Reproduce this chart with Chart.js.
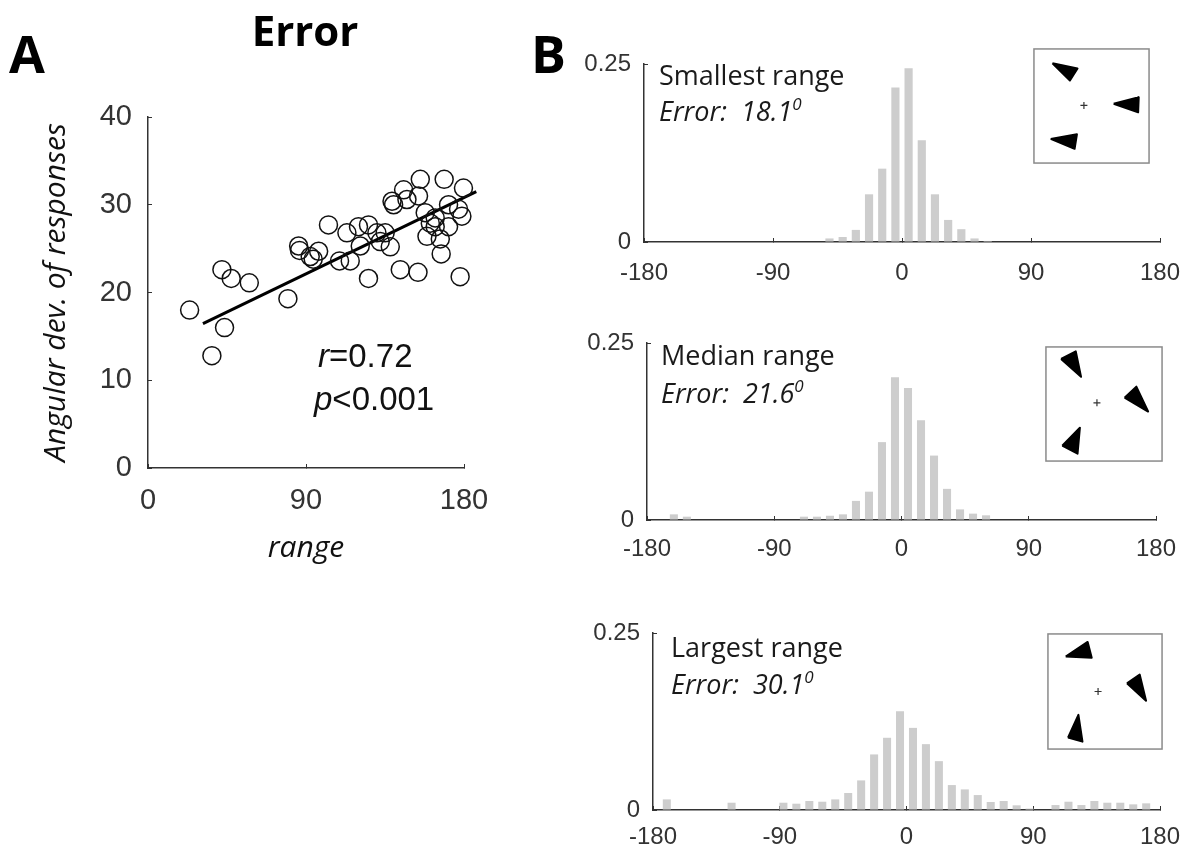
<!DOCTYPE html>
<html>
<head>
<meta charset="utf-8">
<script src="https://cdn.jsdelivr.net/npm/chart.js@4.4.1/dist/chart.umd.min.js"></script>
<style>
  html, body { margin: 0; padding: 0; background: #fff; }
  #fig { position: relative; width: 1193px; height: 853px; overflow: hidden; }
  canvas { position: absolute; }
  canvas.inset { z-index: 2; }
  .t { position: absolute; white-space: pre; line-height: 1; color: #1a1a1a; z-index: 3; }
  .panel { font-family: "Open Sans", sans-serif; font-weight: 700; font-size: 52px; color: #000; }
  .title { font-family: "Open Sans", sans-serif; font-weight: 700; font-size: 42px; color: #000; width: 200px; text-align: center; }
  .stat { font-family: "Liberation Sans", Arial, sans-serif; font-size: 33px; color: #111; }
  .lbl { font-family: "Open Sans", sans-serif; font-size: 27px; }
  .lbl i sup { font-size: 17px; vertical-align: 11px; line-height: 0; }
</style>
</head>
<body>
<div id="fig">
  <canvas id="scatter" width="520" height="600" style="left:0;top:0"></canvas>
  <canvas id="histSmall" width="630" height="280" style="left:560px;top:30px"></canvas>
  <canvas id="histMedian" width="630" height="280" style="left:560px;top:310px"></canvas>
  <canvas id="histLarge" width="630" height="253" style="left:560px;top:600px"></canvas>
  <canvas id="insetSmall" class="inset" width="127" height="126" style="left:1028px;top:43px"></canvas>
  <canvas id="insetMedian" class="inset" width="128" height="126" style="left:1040px;top:341px"></canvas>
  <canvas id="insetLarge" class="inset" width="126" height="127" style="left:1042px;top:628px"></canvas>

  <div class="t panel" style="left:9px;top:27px">A</div>
  <div class="t title" style="left:205px;top:9px">Error</div>
  <div class="t panel" style="left:531px;top:27px">B</div>
  <div class="t stat" style="left:318px;top:339px"><i>r</i>=0.72</div>
  <div class="t stat" style="left:314px;top:382px"><i>p</i>&lt;0.001</div>

  <div class="t lbl" style="left:659px;top:61px">Smallest range</div>
  <div class="t lbl" style="left:659px;top:97px"><i>Error:  18.1<sup>0</sup></i></div>
  <div class="t lbl" style="left:661px;top:341px">Median range</div>
  <div class="t lbl" style="left:661px;top:379px"><i>Error:  21.6<sup>0</sup></i></div>
  <div class="t lbl" style="left:671px;top:633px">Largest range</div>
  <div class="t lbl" style="left:671px;top:670px"><i>Error:  30.1<sup>0</sup></i></div>
</div>

<script>
// ---------- Data ----------

// Panel A: range vs angular deviation, one circle per subject
const RANGE_X = [23.7, 36.4, 43.6, 42.1, 47.4, 57.7, 79.7, 85.8, 86.3, 92.4, 97.2, 94.1,
  102.8, 109.1, 115.2, 113.3, 119.9, 125.6, 120.9, 125.6, 130.4, 135.1, 132.3, 138.0,
  139.0, 139.9, 145.6, 147.5, 143.7, 153.8, 155.1, 154.1, 157.9, 158.9, 160.8, 163.6,
  166.5, 167.0, 168.7, 171.2, 171.2, 176.9, 178.8, 179.7, 177.8, 163.6];
const ERROR_Y = [18.0, 12.8, 16.0, 22.6, 21.6, 21.1, 19.3, 25.3, 24.8, 24.1, 24.7, 23.8,
  27.7, 23.6, 23.6, 26.8, 27.5, 27.7, 25.3, 21.6, 26.8, 26.8, 25.8, 25.2,
  30.4, 30.0, 31.7, 30.6, 22.6, 22.3, 32.9, 31.0, 29.1, 26.4, 27.9, 27.5,
  26.1, 24.4, 32.9, 27.5, 30.0, 29.5, 28.7, 31.9, 21.8, 28.5];
// fitted line end points
const FIT_X = [31.3, 187];
const FIT_Y = [16.45, 31.5];

const SCATTER_X_TICKS = [0, 90, 180];
const SCATTER_Y_TICKS = [0, 10, 20, 30, 40];

// Panel B: response error histograms (proportion per bin)
const BIN_CENTERS = [-179.4, -170.2, -161.0, -151.8, -142.6, -133.4, -124.2, -115.0, -105.8, -96.6,
  -87.4, -78.2, -69.0, -59.8, -50.6, -41.4, -32.2, -23.0, -13.8, -4.6,
  4.6, 13.8, 23.0, 32.2, 41.4, 50.6, 59.8, 69.0, 78.2, 87.4,
  96.6, 105.8, 115.0, 124.2, 133.4, 142.6, 151.8, 161.0, 170.2, 179.4];
const SMALLEST_RANGE = [0, 0, 0, 0, 0, 0, 0, 0, 0, 0,
  0, 0, 0, 0, 0.005, 0.007, 0.017, 0.067, 0.103, 0.217,
  0.244, 0.143, 0.067, 0.031, 0.018, 0.005, 0.0015, 0, 0, 0,
  0, 0, 0, 0, 0, 0, 0, 0, 0, 0];
const MEDIAN_RANGE = [0, 0, 0.008, 0.0047, 0, 0, 0, 0, 0, 0,
  0, 0, 0.0047, 0.0047, 0.006, 0.008, 0.027, 0.04, 0.11, 0.2016,
  0.1866, 0.141, 0.091, 0.044, 0.015, 0.009, 0.0066, 0, 0, 0,
  0, 0, 0, 0, 0, 0, 0, 0, 0, 0];
const LARGEST_RANGE = [0, 0.015, 0, 0, 0, 0, 0.0103, 0, 0, 0,
  0.0103, 0.0089, 0.0127, 0.0117, 0.015, 0.024, 0.0418, 0.0785, 0.102, 0.1396,
  0.116, 0.093, 0.069, 0.0352, 0.0291, 0.0211, 0.0113, 0.0127, 0.0066, 0.002,
  0, 0.007, 0.0117, 0.007, 0.0127, 0.0103, 0.0103, 0.008, 0.0094, 0];

const HIST_X_TICKS = [-180, -90, 0, 90, 180];
const HIST_Y_TICKS = [0, 0.25];

// Stimulus insets: three arrow-heads and a fixation cross, box spans -1..1
const SMALL_TRI_1 = [[-0.67, 0.74], [-0.24, 0.65], [-0.37, 0.44]];
const SMALL_TRI_2 = [[0.38, 0.04], [0.81, 0.15], [0.80, -0.11]];
const SMALL_TRI_3 = [[-0.70, -0.57], [-0.25, -0.49], [-0.29, -0.74]];
const SMALL_FIX = [-0.13, 0.01];
const MEDIAN_TRI_1 = [[-0.73, 0.78], [-0.48, 0.91], [-0.39, 0.47]];
const MEDIAN_TRI_2 = [[0.35, 0.11], [0.55, 0.30], [0.75, -0.13]];
const MEDIAN_TRI_3 = [[-0.71, -0.72], [-0.41, -0.41], [-0.45, -0.86]];
const MEDIAN_FIX = [-0.12, 0.02];
const LARGE_TRI_1 = [[-0.68, 0.60], [-0.30, 0.85], [-0.23, 0.58]];
const LARGE_TRI_2 = [[0.38, 0.14], [0.60, 0.29], [0.71, -0.16]];
const LARGE_TRI_3 = [[-0.64, -0.79], [-0.46, -0.40], [-0.39, -0.86]];
const LARGE_FIX = [-0.12, 0.0];

// ---------- Shared style ----------

Chart.defaults.font.family = "'Liberation Sans', Arial, sans-serif";
Chart.defaults.color = "#333";

const AXIS = "#333";

function fixedTicks(values) {
  return scale => { scale.ticks = values.map(v => ({ value: v })); };
}

// MATLAB-ish axis: solid spine, short inward tick marks, no grid
function axisStyle() {
  return {
    grid: { display: true, drawOnChartArea: false, drawTicks: true, tickLength: -4, color: AXIS, lineWidth: 1 },
    border: { display: true, color: AXIS, width: 1.5 },
  };
}

const baseOpts = {
  responsive: false,
  animation: false,
  events: [],
  plugins: { legend: { display: false }, tooltip: { enabled: false } },
};

// ---------- Panel A ----------

new Chart(document.getElementById("scatter"), {
  type: "scatter",
  data: {
    datasets: [
      {
        data: RANGE_X.map((x, i) => ({ x, y: ERROR_Y[i] })),
        pointRadius: 9,
        pointBorderWidth: 1.5,
        pointBorderColor: "#111",
        pointBackgroundColor: "rgba(0,0,0,0)",
        clip: false,
      },
      {
        type: "line",
        data: FIT_X.map((x, i) => ({ x, y: FIT_Y[i] })),
        borderColor: "#000",
        borderWidth: 3,
        pointRadius: 0,
        fill: false,
        clip: false,
      },
    ],
  },
  options: {
    ...baseOpts,
    layout: { padding: { top: 117, right: 56, left: 0, bottom: 0 } },
    scales: {
      x: {
        type: "linear", min: 0, max: 180,
        afterBuildTicks: fixedTicks(SCATTER_X_TICKS),
        afterFit: s => { s.height = 132; s.paddingLeft = 0; s.paddingRight = 0; },
        ticks: { padding: 20, font: { size: 29 }, color: "#333", maxRotation: 0, autoSkip: false },
        title: {
          display: true, text: "range", color: "#111",
          font: { family: "'Open Sans', sans-serif", style: "italic", size: 30 },
          padding: { top: 0, bottom: 34 },
        },
        ...axisStyle(),
      },
      y: {
        type: "linear", min: 0, max: 40,
        afterBuildTicks: fixedTicks(SCATTER_Y_TICKS),
        afterFit: s => { s.width = 148; },
        ticks: { padding: 20, font: { size: 29 }, color: "#333" },
        title: {
          display: true, text: "Angular dev. of responses", color: "#111",
          font: { family: "'Open Sans', sans-serif", style: "italic", size: 30 },
          padding: { top: 38, bottom: 0 },
        },
        ...axisStyle(),
      },
    },
  },
});

// ---------- Panel B histograms ----------

function histChart(id, values, box) {
  return new Chart(document.getElementById(id), {
    type: "bar",
    data: {
      datasets: [{
        data: BIN_CENTERS.map((x, i) => ({ x, y: values[i] })),
        backgroundColor: "#cdcdcd",
        borderWidth: 0,
        barPercentage: 0.62,
        categoryPercentage: 1.0,
      }],
    },
    options: {
      ...baseOpts,
      layout: { padding: { top: box.top, right: box.right, left: 0, bottom: 0 } },
      scales: {
        x: {
          type: "linear", min: -180, max: 180, offset: false,
          afterBuildTicks: fixedTicks(HIST_X_TICKS),
          // keep the plot edges where the padding puts them
          afterFit: s => { s.height = box.xh; s.paddingLeft = 0; s.paddingRight = 0; },
          ticks: { padding: box.xpad, font: { size: 24 }, color: "#333", maxRotation: 0, autoSkip: false },
          ...axisStyle(),
          grid: { ...axisStyle().grid, offset: false },
        },
        y: {
          type: "linear", min: 0, max: 0.25,
          afterBuildTicks: fixedTicks(HIST_Y_TICKS),
          afterFit: s => { s.width = box.yw; },
          ticks: { padding: 17, font: { size: 24 }, color: "#333", callback: v => String(v) },
          ...axisStyle(),
        },
      },
    },
  });
}

histChart("histSmall", SMALLEST_RANGE, { top: 34, right: 30, xh: 68, yw: 84, xpad: 21 });
histChart("histMedian", MEDIAN_RANGE, { top: 33, right: 34, xh: 70, yw: 87, xpad: 19 });
histChart("histLarge", LARGEST_RANGE, { top: 33, right: 30, xh: 43, yw: 93, xpad: 17 });

// ---------- Stimulus insets ----------

const boxBorder = {
  id: "boxBorder",
  afterDraw(chart) {
    const { ctx, chartArea: a } = chart;
    ctx.save();
    ctx.strokeStyle = "#8a8a8a";
    ctx.lineWidth = 1.5;
    ctx.strokeRect(a.left + 0.75, a.top + 0.75, a.width - 1.5, a.height - 1.5);
    ctx.restore();
  },
};

function triangle(pts) {
  const closed = pts.concat([pts[0]]);
  return {
    data: closed.map(p => ({ x: p[0], y: p[1] })),
    borderColor: "#000",
    backgroundColor: "#000",
    borderWidth: 2,
    borderJoinStyle: "round",
    pointRadius: 0,
    tension: 0,
    fill: "shape",
  };
}

function insetChart(id, tris, fix) {
  return new Chart(document.getElementById(id), {
    type: "line",
    data: {
      datasets: [
        ...tris.map(triangle),
        {
          data: [{ x: fix[0], y: fix[1] }],
          showLine: false,
          pointStyle: "cross",
          pointRadius: 3.5,
          pointBorderWidth: 1.2,
          pointBorderColor: "#333",
        },
      ],
    },
    options: {
      ...baseOpts,
      layout: { padding: 0 },
      scales: {
        x: { type: "linear", min: -1, max: 1, display: false },
        y: { type: "linear", min: -1, max: 1, display: false },
      },
    },
    plugins: [boxBorder],
  });
}

insetChart("insetSmall", [SMALL_TRI_1, SMALL_TRI_2, SMALL_TRI_3], SMALL_FIX);
insetChart("insetMedian", [MEDIAN_TRI_1, MEDIAN_TRI_2, MEDIAN_TRI_3], MEDIAN_FIX);
insetChart("insetLarge", [LARGE_TRI_1, LARGE_TRI_2, LARGE_TRI_3], LARGE_FIX);
</script>
</body>
</html>
